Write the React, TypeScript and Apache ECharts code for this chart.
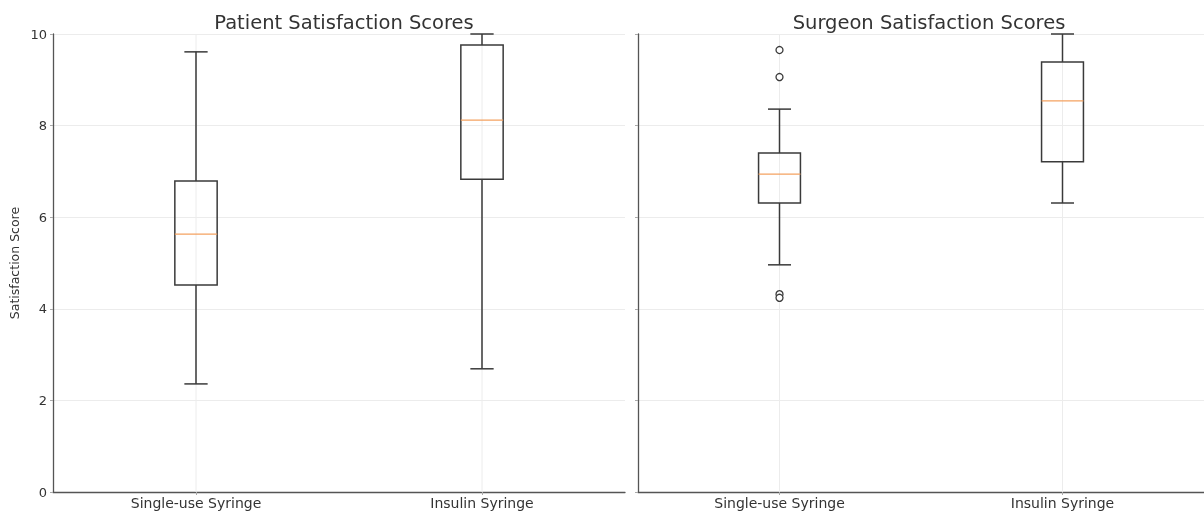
import React, { useEffect, useRef } from "react";
import * as echarts from "echarts";

const categories = ["Single-use Syringe", "Insulin Syringe"];
const titles = ["Patient Satisfaction Scores", "Surgeon Satisfaction Scores"];
const yTicks = [0, 2, 4, 6, 8, 10];

// [min, q1, median, q3, max]
const patientStats = [
  [2.36, 4.52, 5.63, 6.79, 9.61],
  [2.69, 6.83, 8.12, 9.76, 10.0],
];
const surgeonStats = [
  [4.96, 6.31, 6.94, 7.4, 8.36],
  [6.31, 7.21, 8.54, 9.39, 10.0],
];
// [categoryIndex, value]
const surgeonOutliers = [
  [0, 9.65],
  [0, 9.06],
  [0, 4.32],
  [0, 4.24],
];

const FONT = "DejaVu Sans";
const BOX = "#3a3a3a";

function renderBox(params: any, api: any) {
  const x = api.value(0);
  const mn = api.value(1), q1 = api.value(2), md = api.value(3), q3 = api.value(4), mx = api.value(5);
  const band = api.size([1, 0])[0];
  const hw = band * 0.074;
  const cw = hw * 0.55;
  const pMin = api.coord([x, mn]);
  const pQ1 = api.coord([x, q1]);
  const pMd = api.coord([x, md]);
  const pQ3 = api.coord([x, q3]);
  const pMx = api.coord([x, mx]);
  const g0 = api.coord([x, 0]);
  const g10 = api.coord([x, 10]);
  const cx = pMin[0];
  const ls = { stroke: BOX, lineWidth: 1.5, fill: null };
  return {
    type: "group",
    children: [
      { type: "line", shape: { x1: cx, y1: g0[1], x2: cx, y2: g10[1] }, style: { stroke: "#ececec", lineWidth: 1 }, z2: 0 },
      { type: "line", shape: { x1: cx, y1: pMin[1], x2: cx, y2: pQ1[1] }, style: ls },
      { type: "line", shape: { x1: cx, y1: pQ3[1], x2: cx, y2: pMx[1] }, style: ls },
      { type: "line", shape: { x1: cx - cw, y1: pMin[1], x2: cx + cw, y2: pMin[1] }, style: ls },
      { type: "line", shape: { x1: cx - cw, y1: pMx[1], x2: cx + cw, y2: pMx[1] }, style: ls },
      { type: "rect", shape: { x: cx - hw, y: pQ3[1], width: 2 * hw, height: pQ1[1] - pQ3[1] }, style: ls },
      { type: "line", shape: { x1: cx - hw, y1: pMd[1], x2: cx + hw, y2: pMd[1] }, style: { stroke: "#f4a261", lineWidth: 1.3 } },
    ],
  };
}

export default function App() {
  const ref = useRef<HTMLDivElement>(null);
  useEffect(() => {
    if (!ref.current) return;
    const chart = echarts.init(ref.current, null, { renderer: "svg" });
    const gridTop = 34, gridH = 458, gridW = 572;
    const lefts = [53, 638];
    const xAxis = lefts.map((_, i) => ({
      type: "category",
      gridIndex: i,
      data: categories,
      boundaryGap: true,
      axisLine: { show: true, lineStyle: { color: "#555", width: 1.3 } },
      axisTick: { show: true, alignWithLabel: true, length: 3, lineStyle: { color: "#aaa" } },
      axisLabel: { color: "#333", fontFamily: FONT, fontSize: 14, margin: 4 },
      splitLine: { show: false },
    }));
    const yAxis = lefts.map((_, i) => ({
      type: "value",
      gridIndex: i,
      min: 0,
      max: 10,
      interval: 2,
      axisLine: { show: true, lineStyle: { color: "#555", width: 1.3 } },
      axisTick: { show: true, length: 3, inside: false, lineStyle: { color: "#aaa" } },
      axisLabel: {
        show: i === 0,
        color: "#333",
        fontFamily: FONT,
        fontSize: 13,
        margin: 6,
        formatter: (v: number) => (yTicks.includes(v) ? String(v) : ""),
      },
      splitLine: { show: true, lineStyle: { color: "#ececec", width: 1 } },
      name: i === 0 ? "Satisfaction Score" : "",
      nameLocation: "middle",
      nameGap: 32,
      nameTextStyle: { color: "#333", fontFamily: FONT, fontSize: 12.5 },
    }));
    const mk = (stats: number[][]) => stats.map((s, i) => [i, ...s]);
    chart.setOption({
      animation: false,
      title: titles.map((t, i) => ({
        text: t,
        left: lefts[i] + gridW / 2,
        top: 7,
        textAlign: "center",
        textStyle: { fontFamily: FONT, fontSize: 19.5, fontWeight: "normal", color: "#333" },
      })),
      grid: lefts.map((l) => ({ left: l, top: gridTop, width: gridW, height: gridH })),
      xAxis,
      yAxis,
      series: [
        { type: "custom", xAxisIndex: 0, yAxisIndex: 0, data: mk(patientStats), renderItem: renderBox, encode: { x: 0, y: [1, 2, 3, 4, 5] } },
        { type: "custom", xAxisIndex: 1, yAxisIndex: 1, data: mk(surgeonStats), renderItem: renderBox, encode: { x: 0, y: [1, 2, 3, 4, 5] } },
        {
          type: "scatter",
          xAxisIndex: 1,
          yAxisIndex: 1,
          data: surgeonOutliers,
          symbol: "circle",
          symbolSize: 7,
          z: 5,
          itemStyle: { color: "#ffffff", borderColor: BOX, borderWidth: 1.3, opacity: 1 },
        },
      ],
    });
    return () => chart.dispose();
  }, []);
  return <div ref={ref} style={{ position: "fixed", left: 0, top: 0, width: 1204, height: 515 }} />;
}
